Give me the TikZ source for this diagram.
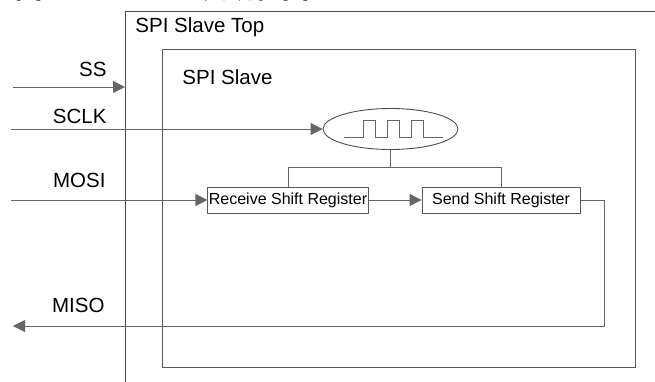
\documentclass[tikz,border=0pt]{standalone}
\usepackage{fontspec}
\setmainfont{Liberation Sans}
\newfontfamily\cjk{Noto Sans CJK SC}
\usepackage{tikz}
\usetikzlibrary{positioning, calc, arrows.meta, shapes.geometric}
\tikzset{>={Triangle[length=12pt, width=12pt]}}

\begin{document}
\begin{tikzpicture}
    [x=1pt, y=-1pt,
     line width=0.9pt,
     wire/.style={draw=black!60, line width=0.9pt},
     sig/.style={wire, ->, color=black!75, draw=black!60},
     frame/.style={draw=black!70, line width=0.9pt, inner sep=0pt},
     reg/.style={draw=black!65, inner xsep=1pt, inner ysep=0pt, minimum height=26pt,
                 font=\fontsize{16}{18}\selectfont},
     lbl/.style={inner sep=0pt, font=\fontsize{20.5}{24}\selectfont}]

    \useasboundingbox (0,0) rectangle (655,381);
    \clip (0,0) rectangle (655,381);

    \node[anchor=base east, inner sep=0pt, font=\fontsize{27}{30}\selectfont\bfseries] (title) at (310,-1.5)
      {{\cjk 图} 5 SPI Slave {\cjk 实现框图}};

    \node[frame, anchor=north west, minimum width=600pt, minimum height=450pt] (top) at (125,11) {};
    \node[lbl, anchor=base west] (toplbl) at (135,32) {SPI Slave Top};

    \node[frame, draw=black!65, anchor=north west, minimum width=473pt, minimum height=318pt] (slave) at (162,49) {};
    \node[lbl, anchor=base west] (slavelbl) at (182,84) {SPI Slave};

    \node[ellipse, draw=black!70, minimum width=135pt, minimum height=41pt] (clk) at (390.5,129) {};
    \draw[wire] (344,137) -- (363,137) -- (363,120) -- (375,120) -- (375,137) -- (387,137) -- (387,120)
      -- (399,120) -- (399,137) -- (411,137) -- (411,120) -- (423,120) -- (423,137) -- (443,137);

    \node[reg] (rx) at (288,200) {Receive Shift Register};
    \node[reg, minimum width=158pt, right=53pt of rx] (tx) {Send Shift Register};

    \node[lbl, anchor=base east] (ss) at (107,76) {SS};
    \node[lbl, anchor=base east] (sclk) at (107,123) {SCLK};
    \node[lbl, anchor=base east] (mosi) at (106,187) {MOSI};
    \node[lbl, anchor=base east] (miso) at (105,312) {MISO};

    \coordinate (ssin) at (13,87);
    \coordinate (sclkin) at (11,129);
    \coordinate (mosiin) at (11,200);
    \coordinate (misoout) at (13,326);

    \draw[sig] (ssin) -- (ssin -| top.west);
    \draw[sig] (sclkin) -- (clk.west);
    \draw[sig] (mosiin) -- (rx.west);
    \draw[sig] (rx.east) -- (tx.west);

    \draw[wire] (rx.north) -- ++(0,-19) coordinate (bus) -| (tx.north);
    \draw[wire] (clk.south) -- (clk.south |- bus);

    \draw[sig] (tx.east) -- ++(24,0) |- (misoout);
  \end{tikzpicture}
\end{document}
